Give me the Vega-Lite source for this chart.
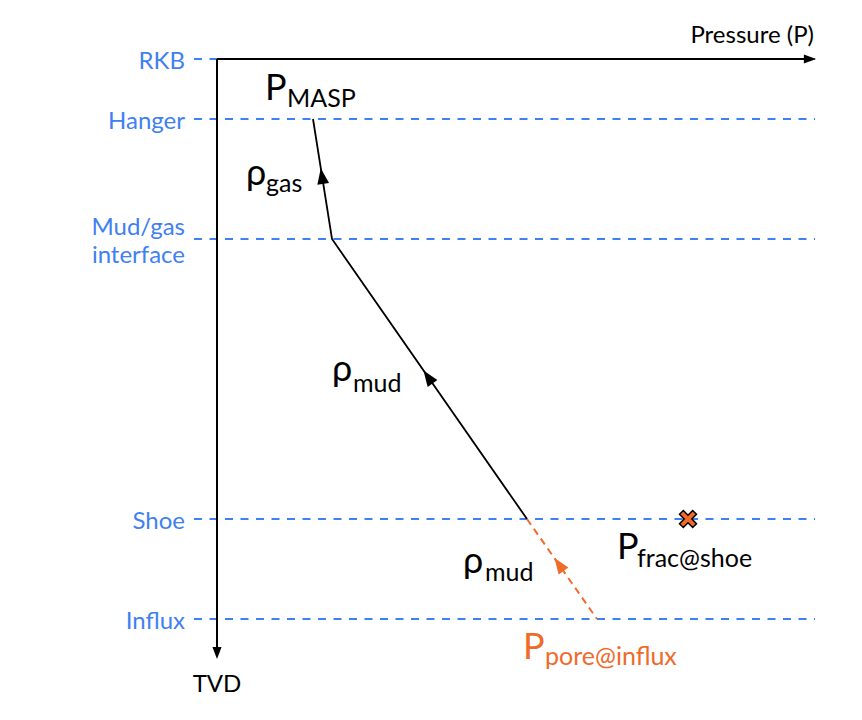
{
  "$schema": "https://vega.github.io/schema/vega-lite/v6.json",
  "width": 862,
  "height": 720,
  "padding": 0,
  "autosize": {"type": "fit", "contains": "padding"},
  "background": "white",
  "config": {"view": {"stroke": null}, "font": "Lato"},
  "resolve": {"scale": {"color": "shared"}},
  "datasets": {
    "levels": [
      {"label": "RKB", "depth": 0},
      {"label": "Hanger", "depth": 60},
      {"label": "Mud/gas\ninterface", "depth": 180},
      {"label": "Shoe", "depth": 460},
      {"label": "Influx", "depth": 560}
    ],
    "profile": [
      {"pressure": 96, "depth": 60, "fluid": "annulus"},
      {"pressure": 115, "depth": 180, "fluid": "annulus"},
      {"pressure": 310, "depth": 460, "fluid": "annulus"},
      {"pressure": 310, "depth": 460, "fluid": "influx"},
      {"pressure": 380, "depth": 560, "fluid": "influx"}
    ],
    "flow": [
      {"pressure": 105, "depth": 117, "direction": 351, "tone": "black"},
      {"pressure": 211, "depth": 318, "direction": 325, "tone": "black"},
      {"pressure": 342, "depth": 505.5, "direction": 325, "tone": "orange"}
    ],
    "axes": [
      {"axis": "P", "pressure": 0, "depth": 0},
      {"axis": "P", "pressure": 592, "depth": 0},
      {"axis": "TVD", "pressure": 0, "depth": 0},
      {"axis": "TVD", "pressure": 0, "depth": 590}
    ],
    "axisHeads": [
      {"pressure": 593, "depth": 0, "direction": 90},
      {"pressure": 0, "depth": 594, "direction": 180}
    ],
    "frac": [
      {"pressure": 471, "depth": 460}
    ],
    "notes": [
      {"text": "P", "role": "main", "tone": "black", "pressure": 48, "depth": 40.5},
      {"text": "MASP", "role": "sub", "tone": "black", "pressure": 70, "depth": 47.5},
      {"text": "ρ", "role": "main", "tone": "black", "pressure": 29, "depth": 125.5},
      {"text": "gas", "role": "sub", "tone": "black", "pressure": 49, "depth": 132.5},
      {"text": "ρ", "role": "main", "tone": "black", "pressure": 115, "depth": 321.5},
      {"text": "mud", "role": "sub", "tone": "black", "pressure": 136, "depth": 332.5},
      {"text": "ρ", "role": "main", "tone": "black", "pressure": 246, "depth": 513.5},
      {"text": "mud", "role": "sub", "tone": "black", "pressure": 268, "depth": 521.5},
      {"text": "P", "role": "main", "tone": "black", "pressure": 400, "depth": 499.5},
      {"text": "frac@shoe", "role": "sub", "tone": "black", "pressure": 420, "depth": 507.5},
      {"text": "P", "role": "main", "tone": "orange", "pressure": 306, "depth": 599.5},
      {"text": "pore@influx", "role": "sub", "tone": "orange", "pressure": 328, "depth": 605.5}
    ],
    "titles": [
      {"text": "Pressure (P)", "pressure": 597, "depth": -16, "side": "right"},
      {"text": "TVD", "pressure": 0, "depth": 633, "side": "center"}
    ]
  },
  "layer": [
    {
      "data": {"name": "levels"},
      "mark": {"type": "rule", "color": "#3f80f2", "strokeWidth": 2, "strokeDash": [8, 7.5]},
      "encoding": {
        "x": {"datum": -23, "type": "quantitative", "scale": {"domain": [-217, 645], "nice": false, "zero": false}, "axis": null},
        "x2": {"datum": 598},
        "y": {"field": "depth", "type": "quantitative", "scale": {"domain": [-59, 661], "nice": false, "zero": false, "reverse": true}, "axis": null}
      }
    },
    {
      "data": {"name": "levels"},
      "transform": [{"filter": "indexof(datum.label, '\\n') < 0"}],
      "mark": {"type": "text", "align": "right", "baseline": "middle", "fontSize": 24, "color": "#3f80f2", "dy": 3},
      "encoding": {
        "x": {"datum": -32, "type": "quantitative"},
        "y": {"field": "depth", "type": "quantitative"},
        "text": {"field": "label"}
      }
    },
    {
      "data": {"name": "levels"},
      "transform": [{"filter": "indexof(datum.label, '\\n') >= 0"}],
      "mark": {"type": "text", "align": "right", "baseline": "middle", "fontSize": 24, "color": "#3f80f2", "lineBreak": "\n", "lineHeight": 28, "dy": -11},
      "encoding": {
        "x": {"datum": -32, "type": "quantitative"},
        "y": {"field": "depth", "type": "quantitative"},
        "text": {"field": "label"}
      }
    },
    {
      "data": {"name": "axes"},
      "mark": {"type": "line", "color": "black", "strokeWidth": 2},
      "encoding": {
        "x": {"field": "pressure", "type": "quantitative"},
        "y": {"field": "depth", "type": "quantitative"},
        "detail": {"field": "axis"}
      }
    },
    {
      "data": {"name": "axisHeads"},
      "mark": {"type": "point", "shape": "M0,-1L0.75,1L-0.75,1Z", "filled": true, "color": "black", "size": 150, "opacity": 1},
      "encoding": {
        "x": {"field": "pressure", "type": "quantitative"},
        "y": {"field": "depth", "type": "quantitative"},
        "angle": {"field": "direction", "type": "quantitative", "scale": null}
      }
    },
    {
      "data": {"name": "profile"},
      "transform": [{"filter": "datum.fluid === 'annulus'"}],
      "mark": {"type": "line", "color": "black", "strokeWidth": 1.8},
      "encoding": {
        "x": {"field": "pressure", "type": "quantitative"},
        "y": {"field": "depth", "type": "quantitative"}
      }
    },
    {
      "data": {"name": "profile"},
      "transform": [{"filter": "datum.fluid === 'influx'"}],
      "mark": {"type": "line", "color": "#f06a2a", "strokeWidth": 2, "strokeDash": [7, 5]},
      "encoding": {
        "x": {"field": "pressure", "type": "quantitative"},
        "y": {"field": "depth", "type": "quantitative"}
      }
    },
    {
      "data": {"name": "flow"},
      "mark": {"type": "point", "shape": "M0,-1L0.75,1L-0.75,1Z", "filled": true, "size": 250, "opacity": 1},
      "encoding": {
        "x": {"field": "pressure", "type": "quantitative"},
        "y": {"field": "depth", "type": "quantitative"},
        "angle": {"field": "direction", "type": "quantitative", "scale": null},
        "color": {"field": "tone", "type": "nominal", "scale": {"domain": ["black", "orange"], "range": ["#000000", "#f06a2a"]}, "legend": null}
      }
    },
    {
      "data": {"name": "frac"},
      "mark": {"type": "point", "shape": "M-1,-0.55L-0.55,-1L0,-0.45L0.55,-1L1,-0.55L0.45,0L1,0.55L0.55,1L0,0.45L-0.55,1L-1,0.55L-0.45,0Z", "filled": true, "fill": "#f06a2a", "stroke": "black", "strokeWidth": 1.5, "size": 289, "opacity": 1},
      "encoding": {
        "x": {"field": "pressure", "type": "quantitative"},
        "y": {"field": "depth", "type": "quantitative"}
      }
    },
    {
      "data": {"name": "notes"},
      "transform": [{"filter": "datum.role === 'main'"}],
      "mark": {"type": "text", "align": "left", "baseline": "alphabetic", "fontSize": 36},
      "encoding": {
        "x": {"field": "pressure", "type": "quantitative"},
        "y": {"field": "depth", "type": "quantitative"},
        "text": {"field": "text"},
        "color": {"field": "tone", "type": "nominal", "legend": null}
      }
    },
    {
      "data": {"name": "notes"},
      "transform": [{"filter": "datum.role === 'sub'"}],
      "mark": {"type": "text", "align": "left", "baseline": "alphabetic", "fontSize": 25},
      "encoding": {
        "x": {"field": "pressure", "type": "quantitative"},
        "y": {"field": "depth", "type": "quantitative"},
        "text": {"field": "text"},
        "color": {"field": "tone", "type": "nominal", "legend": null}
      }
    },
    {
      "data": {"name": "titles"},
      "transform": [{"filter": "datum.side === 'right'"}],
      "mark": {"type": "text", "align": "right", "baseline": "alphabetic", "fontSize": 24, "color": "black"},
      "encoding": {
        "x": {"field": "pressure", "type": "quantitative"},
        "y": {"field": "depth", "type": "quantitative"},
        "text": {"field": "text"}
      }
    },
    {
      "data": {"name": "titles"},
      "transform": [{"filter": "datum.side === 'center'"}],
      "mark": {"type": "text", "align": "center", "baseline": "alphabetic", "fontSize": 24, "color": "black"},
      "encoding": {
        "x": {"field": "pressure", "type": "quantitative"},
        "y": {"field": "depth", "type": "quantitative"},
        "text": {"field": "text"}
      }
    }
  ]
}
